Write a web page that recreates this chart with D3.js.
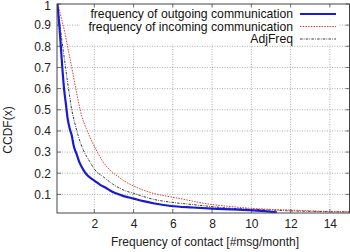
<!DOCTYPE html>
<html><head><meta charset="utf-8">
<script src="https://cdn.jsdelivr.net/npm/d3@7"></script>
<style>body{margin:0;background:#fff}svg text{font-family:"Liberation Sans",Arial,sans-serif}</style>
</head><body><svg id="c" width="350" height="252"></svg>
<script>
const seriesNames = ["frequency of outgoing communication","frequency of incoming communication","AdjFreq"];
const outX = [0.12,0.25,0.37,0.47,0.55,0.64,0.75,0.85,0.95,1.1,1.25,1.45,1.6,1.8,2,2.3,2.6,2.8,3.1,3.5,4,4.5,5,5.9,7,8,9,10,10.8,11.3];
const outY = [1,0.86,0.70,0.59,0.53,0.46,0.41,0.38,0.33,0.29,0.25,0.215,0.195,0.178,0.165,0.145,0.13,0.118,0.105,0.092,0.08,0.068,0.058,0.045,0.038,0.033,0.029,0.025,0.02,0.015];
const inX = [0.15,0.3,0.51,0.7,0.85,1.1,1.36,1.6,1.78,2.1,2.4,2.8,3.2,3.5,4,4.5,5,5.9,6.5,7,8,9,10,11,12,13,14,15];
const inY = [1,0.94,0.86,0.77,0.70,0.58,0.47,0.41,0.37,0.31,0.26,0.215,0.185,0.165,0.14,0.12,0.105,0.088,0.078,0.068,0.052,0.042,0.034,0.029,0.026,0.022,0.019,0.018];
const adjX = [0.12,0.25,0.42,0.55,0.64,0.75,0.85,1,1.2,1.44,1.8,2,2.5,3,3.5,4,4.5,5,5.9,7,8,9,10,11,12,13,14,15];
const adjY = [1,0.90,0.78,0.69,0.63,0.56,0.50,0.44,0.37,0.31,0.25,0.22,0.18,0.145,0.12,0.105,0.09,0.077,0.063,0.052,0.042,0.034,0.03,0.026,0.022,0.02,0.018,0.017];
const xTicks = [2,4,6,8,10,12,14];
const yTicks = [0.1,0.2,0.3,0.4,0.5,0.6,0.7,0.8,0.9,1];

const L=57,R=349.5,T=4,B=213;
const FS=12;
const svg=d3.select("#c");
const x=d3.scaleLinear().domain([0.1,15]).range([L,R]);
const y=d3.scaleLinear().domain([0.012,1]).range([B,T]);
const g=svg.append("g");
// grid
g.selectAll(".gx").data(xTicks).join("line").attr("x1",d=>x(d)).attr("x2",d=>x(d)).attr("y1",T).attr("y2",B)
 .attr("stroke","#999").attr("stroke-width",0.8).attr("stroke-dasharray","1,1.5");
g.selectAll(".gy").data(yTicks.filter(v=>v<1)).join("line").attr("x1",L).attr("x2",R).attr("y1",d=>y(d)).attr("y2",d=>y(d))
 .attr("stroke","#999").attr("stroke-width",0.8).attr("stroke-dasharray","1,1.5");
// axes
const ax=d3.axisBottom(x).tickValues(xTicks).tickSize(0).tickPadding(6).tickFormat(d3.format("d"));
const axg=svg.append("g").attr("transform",`translate(0,${B})`).call(ax);
axg.select(".domain").remove();
axg.selectAll("text").attr("font-size",FS).attr("fill","#222").attr("font-family","Liberation Sans, Arial, sans-serif");
const ay=d3.axisLeft(y).tickValues(yTicks).tickSize(0).tickPadding(6).tickFormat(d=>d===1?"1":d3.format(".1f")(d));
const ayg=svg.append("g").attr("transform",`translate(${L},0)`).call(ay);
ayg.select(".domain").remove();
ayg.selectAll("text").attr("font-size",FS).attr("fill","#222").attr("font-family","Liberation Sans, Arial, sans-serif");
ayg.selectAll(".tick").filter(d=>d===1).select("text").attr("dy","0.45em");
// tick marks inside frame
const tk=svg.append("g").attr("stroke","#555").attr("stroke-width",0.8);
xTicks.forEach(v=>{tk.append("line").attr("x1",x(v)).attr("x2",x(v)).attr("y1",B).attr("y2",B-4);
 tk.append("line").attr("x1",x(v)).attr("x2",x(v)).attr("y1",T).attr("y2",T+4);});
yTicks.forEach(v=>{tk.append("line").attr("x1",L).attr("x2",L+4).attr("y1",y(v)).attr("y2",y(v));
 tk.append("line").attr("x1",R).attr("x2",R-4).attr("y1",y(v)).attr("y2",y(v));});
// lines
const line=d3.line().curve(d3.curveMonotoneX).x(d=>x(d[0])).y(d=>y(d[1]));
svg.append("clipPath").attr("id","cp").append("rect").attr("x",L).attr("y",T).attr("width",R-L).attr("height",B-T);
const styles=[{c:"#1a1ad0",w:2.2,da:null},{c:"#e03a3a",w:1,da:"1.5,1.2"},{c:"#222",w:0.9,da:"2.5,1.2,0.8,1.2"}];
const data=[[outX,outY],[inX,inY],[adjX,adjY]];
const lg=svg.append("g").attr("clip-path","url(#cp)");
[2,1,0].forEach(i=>{
 const pts=data[i][0].map((v,j)=>[v,data[i][1][j]]);
 lg.append("path").attr("d",line(pts)).attr("fill","none").attr("stroke",styles[i].c).attr("stroke-width",styles[i].w)
  .attr("stroke-dasharray",styles[i].da);
});
// frame
svg.append("rect").attr("x",L).attr("y",T).attr("width",R-L).attr("height",B-T).attr("fill","none").attr("stroke","#444").attr("stroke-width",1);
// legend
const leg=svg.append("g");
seriesNames.forEach((n,i)=>{
 const yy=14+i*12.5;
 leg.append("rect").attr("x",80).attr("y",yy-6.5).attr("width",258).attr("height",12).attr("fill","#fff");
});
seriesNames.forEach((n,i)=>{
 const yy=14+i*12.5;
 leg.append("text").attr("x",293).attr("y",yy+4.3).attr("text-anchor","end").attr("font-size",12.2).attr("fill","#111").text(n);
 leg.append("line").attr("x1",300).attr("x2",336).attr("y1",yy).attr("y2",yy).attr("stroke",styles[i].c)
  .attr("stroke-width",styles[i].w).attr("stroke-dasharray",styles[i].da);
});
// axis titles
svg.append("text").attr("x",205).attr("y",246).attr("text-anchor","middle").attr("font-size",FS).attr("fill","#222").text("Frequency of contact [#msg/month]");
svg.append("text").attr("transform","translate(12,130) rotate(-90)").attr("text-anchor","middle").attr("font-size",FS).attr("fill","#222").text("CCDF(x)");
</script></body></html>
